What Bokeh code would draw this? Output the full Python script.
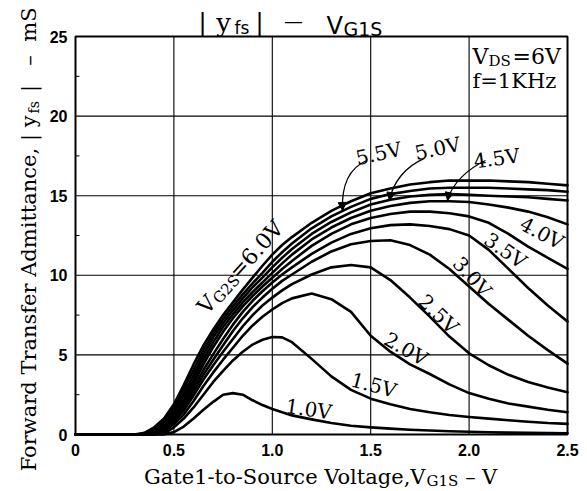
import math
from bokeh.plotting import figure
from bokeh.models import Label, Range1d, Arrow, NormalHead
from bokeh.core.properties import value
from bokeh.embed import file_html
from bokeh.resources import INLINE

# ---------------- data ----------------
vg1s = [0.0, 0.30, 0.35, 0.40, 0.45, 0.50, 0.55, 0.60, 0.65, 0.70, 0.75, 0.80,
        0.85, 0.90, 0.95, 1.00, 1.05, 1.10, 1.20, 1.30, 1.40, 1.50, 1.60, 1.70,
        1.80, 1.90, 2.00, 2.10, 2.20, 2.30, 2.40, 2.50]

yfs_vg2s_1_0 = [0, 0, 0, 0, 0, 0.15, 0.5, 1.0, 1.55, 2.05, 2.5, 2.6, 2.5, 2.15, 1.85, 1.6,
                1.4, 1.2, 0.95, 0.72, 0.55, 0.45, 0.37, 0.3, 0.25, 0.2, 0.17, 0.14, 0.12,
                0.1, 0.09, 0.08]
yfs_vg2s_1_5 = [0, 0, 0, 0, 0.05, 0.45, 1.0, 1.7, 2.5, 3.3, 4.0, 4.65, 5.2, 5.65, 5.95,
                6.12, 6.1, 5.8, 4.75, 3.65, 2.8, 2.25, 1.9, 1.6, 1.4, 1.22, 1.1, 1.0, 0.9,
                0.8, 0.72, 0.67]
yfs_vg2s_2_0 = [0, 0, 0, 0, 0.2, 0.65, 1.25, 2.1, 3.05, 3.9, 4.7, 5.45, 6.2, 6.85, 7.4,
                7.85, 8.25, 8.55, 8.85, 8.5, 7.7, 6.2, 5.2, 4.4, 3.8, 3.15, 2.6, 2.25, 1.95,
                1.75, 1.55, 1.4]
yfs_vg2s_2_5 = [0, 0, 0, 0, 0.3, 0.8, 1.5, 2.45, 3.45, 4.35, 5.2, 6.0, 6.8, 7.5, 8.1,
                8.6, 9.05, 9.45, 10.05, 10.5, 10.65, 10.5, 9.7, 8.6, 7.4, 6.15, 5.1, 4.35,
                3.75, 3.3, 2.95, 2.66]
yfs_vg2s_3_0 = [0, 0, 0, 0.1, 0.4, 0.9, 1.7, 2.7, 3.75, 4.7, 5.6, 6.5, 7.3, 8.0, 8.6,
                9.15, 9.65, 10.05, 10.85, 11.5, 11.95, 12.15, 12.2, 11.9, 11.3, 10.4, 9.3,
                8.2, 7.2, 6.2, 5.3, 4.45]
yfs_vg2s_3_5 = [0, 0, 0, 0.15, 0.5, 1.05, 1.9, 2.95, 4.05, 5.05, 6.0, 6.9, 7.7, 8.4, 9.0,
                9.55, 10.05, 10.5, 11.35, 12.05, 12.6, 12.95, 13.15, 13.2, 13.1, 12.9, 12.5,
                11.6, 10.4, 9.2, 8.1, 7.1]
yfs_vg2s_4_0 = [0, 0, 0, 0.2, 0.6, 1.2, 2.1, 3.2, 4.4, 5.5, 6.45, 7.3, 8.05, 8.7, 9.3,
                9.85, 10.4, 10.9, 11.85, 12.6, 13.2, 13.6, 13.85, 14.0, 14.0, 13.9, 13.7,
                13.3, 12.6, 11.8, 11.1, 10.4]
yfs_vg2s_4_5 = [0, 0, 0, 0.25, 0.7, 1.35, 2.3, 3.45, 4.7, 5.8, 6.75, 7.55, 8.3, 8.95, 9.55,
                10.15, 10.75, 11.3, 12.25, 13.0, 13.6, 14.05, 14.35, 14.55, 14.65, 14.65,
                14.6, 14.45, 14.25, 14.0, 13.65, 13.2]
yfs_vg2s_5_0 = [0, 0, 0, 0.3, 0.8, 1.5, 2.55, 3.75, 5.0, 6.1, 7.0, 7.8, 8.55, 9.25, 9.85,
                10.5, 11.1, 11.65, 12.6, 13.35, 13.95, 14.45, 14.75, 14.95, 15.05, 15.1,
                15.05, 15.0, 14.95, 14.9, 14.8, 14.7]
yfs_vg2s_5_5 = [0, 0, 0.05, 0.35, 0.9, 1.7, 2.85, 4.05, 5.3, 6.35, 7.25, 8.05, 8.8, 9.5,
                10.15, 10.85, 11.45, 12.0, 12.95, 13.7, 14.3, 14.8, 15.1, 15.3, 15.45, 15.5,
                15.5, 15.5, 15.45, 15.4, 15.35, 15.25]
yfs_vg2s_6_0 = [0, 0, 0.1, 0.45, 1.0, 1.9, 3.1, 4.4, 5.6, 6.6, 7.5, 8.3, 9.1, 9.85, 10.6,
                11.3, 11.9, 12.4, 13.3, 14.05, 14.65, 15.15, 15.45, 15.7, 15.85, 15.95,
                15.95, 15.95, 15.9, 15.85, 15.75, 15.65]

curves = [yfs_vg2s_1_0, yfs_vg2s_1_5, yfs_vg2s_2_0, yfs_vg2s_2_5, yfs_vg2s_3_0,
          yfs_vg2s_3_5, yfs_vg2s_4_0, yfs_vg2s_4_5, yfs_vg2s_5_0, yfs_vg2s_5_5,
          yfs_vg2s_6_0]

# inline curve labels
curve_label_text = ["1.0V", "1.5V", "2.0V", "2.5V", "3.0V", "3.5V", "4.0V"]
curve_label_x = [1.185, 1.515, 1.68, 1.845, 2.015, 2.185, 2.37]
curve_label_y = [1.6, 3.1, 5.37, 7.56, 9.9, 11.55, 12.65]
curve_label_angle = [-8, -15, -30, -44, -48, -35, -28]

# arrow-pointer labels
ptr_text = ["5.5V", "5.0V", "4.5V"]
ptr_label_x = [1.54, 1.84, 2.14]
ptr_label_y = [17.65, 17.96, 17.34]
ptr_label_angle = [12, 12, 8]
ptr_x0 = [1.479, 1.773, 2.083]
ptr_y0 = [17.21, 17.34, 17.21]
ptr_cx0 = [1.387, 1.677, 1.997]
ptr_cy0 = [16.71, 16.83, 16.71]
ptr_cx1 = [1.351, 1.611, 1.911]
ptr_cy1 = [15.64, 15.83, 15.77]
ptr_x1 = [1.357, 1.596, 1.890]
ptr_y1 = [14.07, 14.7, 14.7]

x_ticks = [0, 0.5, 1.0, 1.5, 2.0, 2.5]
x_tick_labels = ["0", "0.5", "1.0", "1.5", "2.0", "2.5"]
y_ticks = [0, 5, 10, 15, 20, 25]
y_tick_labels = ["0", "5", "10", "15", "20", "25"]
y_minor_ticks = [2.5, 7.5, 12.5, 17.5, 22.5]

# ---------------- layout (pixels) ----------------
W, H = 587, 491
PL, PR, PT, PB = 75, 20, 36, 57          # margins around the plotting box
XU = (W - PL - PR) / (x_ticks[-1] - x_ticks[0])   # px per x unit
YU = (H - PT - PB) / (y_ticks[-1] - y_ticks[0])   # px per y unit
x_lo = x_ticks[0] - PL / XU
x_hi = x_ticks[-1] + PR / XU
y_lo = y_ticks[0] - PB / YU
y_hi = y_ticks[-1] + PT / YU

p = figure(width=W, height=H, x_range=Range1d(x_lo, x_hi), y_range=Range1d(y_lo, y_hi),
           output_backend="svg", toolbar_location=None, min_border=0,
           x_axis_type=None, y_axis_type=None)
p.background_fill_color = "white"
p.border_fill_color = "white"
p.outline_line_color = None
p.grid.visible = False

X0, X1 = x_ticks[0], x_ticks[-1]
Y0, Y1 = y_ticks[0], y_ticks[-1]

# grid
gx = x_ticks[1:-1]
gy = y_ticks[1:-1]
p.segment(x0=gx, y0=[Y0] * len(gx), x1=gx, y1=[Y1] * len(gx), line_color="black", line_width=1.1)
p.segment(x0=[X0] * len(gy), y0=gy, x1=[X1] * len(gy), y1=gy, line_color="black", line_width=1.1)
# minor ticks on the left edge
p.segment(x0=[X0] * len(y_minor_ticks), y0=y_minor_ticks,
          x1=[X0 + 4 / XU] * len(y_minor_ticks), y1=y_minor_ticks, line_color="black", line_width=1)

# curves
for ys in curves:
    p.line(vg1s, ys, line_color="black", line_width=2.6, line_join="round", line_cap="round")

# frame
p.quad(left=[X0], right=[X1], bottom=[Y0], top=[Y1], fill_color=None, line_color="black",
       line_width=2)

# tick labels
TICKFONT = "Liberation Sans"
p.text(x=x_ticks, y=[Y0] * len(x_ticks), text=x_tick_labels, text_align="center",
       text_baseline="top", y_offset=9, text_font=value(TICKFONT), text_font_style="bold",
       text_font_size="16px", text_color="black")
p.text(x=[X0] * len(y_ticks), y=y_ticks, text=y_tick_labels, text_align="right",
       text_baseline="middle", x_offset=-8, text_font=value(TICKFONT), text_font_style="bold",
       text_font_size="16px", text_color="black")

SERIF = "DejaVu Serif"
SANS = "DejaVu Sans"

for t, x, y, a in zip(curve_label_text, curve_label_x, curve_label_y, curve_label_angle):
    p.add_layout(Label(x=x, y=y, text=t, angle=math.radians(a), text_align="center",
                       text_baseline="middle", text_font=SERIF, text_font_size="20px",
                       text_color="black"))

for t, x, y, a in zip(ptr_text, ptr_label_x, ptr_label_y, ptr_label_angle):
    p.add_layout(Label(x=x, y=y, text=t, angle=math.radians(a), text_align="center",
                       text_baseline="middle", text_font=SERIF, text_font_size="20px",
                       text_color="black"))

p.bezier(x0=ptr_x0, y0=ptr_y0, x1=ptr_x1, y1=ptr_y1, cx0=ptr_cx0, cy0=ptr_cy0,
         cx1=ptr_cx1, cy1=ptr_cy1, line_color="black", line_width=1.3)
for xs, ys, xe, ye in zip(ptr_cx1, ptr_cy1, ptr_x1, ptr_y1):
    p.add_layout(Arrow(end=NormalHead(size=8, fill_color="black", line_color="black"),
                       x_start=xs, y_start=ys, x_end=xe, y_end=ye, line_alpha=0))

# V_G2S = 6.0V rotated label, built from pieces
ang = math.radians(48)
ux, uy = math.cos(ang), math.sin(ang)
nx, ny = math.sin(ang), -math.cos(ang)
pieces = [("V", 0, 0, 22), ("G2S", 16.5, 4.5, 15), ("=6.0V", 47, 0, 22)]
for t, d, s, fs in pieces:
    p.add_layout(Label(x=0.64, y=7.79, text=t, angle=ang, text_align="left",
                       text_baseline="alphabetic", text_font=SERIF,
                       text_font_size=f"{fs}px", x_offset=d * ux + s * nx,
                       y_offset=d * uy + s * ny, text_color="black"))


# window-pixel helper (figure fills the page from its top-left corner)
def wlabel(text, wx, wy, size, font=SERIF, align="left", baseline="alphabetic", angle=0.0):
    p.add_layout(Label(x=wx, y=H - wy, x_units="screen", y_units="screen", text=text,
                       text_font=font, text_font_size=f"{size}px", text_align=align,
                       text_baseline=baseline, angle=angle, text_color="black"))


# title  | y_fs |  -  V_G1S
wlabel("|", 202, 22, 24, SANS, "center")
wlabel("y", 223, 22, 26, SERIF, "center")
wlabel("fs", 234, 27, 17, SANS, "left")
wlabel("|", 259, 22, 24, SANS, "center")
wlabel("—", 293, 20, 19, SANS, "center", "middle")
wlabel("V", 326, 25, 24, SANS, "left")
wlabel("G1S", 343, 28, 19, SANS, "left")

# conditions
wlabel("V", 472, 56, 22)
wlabel("DS", 488, 60, 15)
wlabel("=6V", 512, 56, 22)
wlabel("f=1KHz", 472, 80, 21)

# x axis title
wlabel("Gate1-to-Source Voltage,V", 425, 476, 21, SERIF, "right")
wlabel("G1S", 426, 480, 15, SERIF, "left")
wlabel("–", 470, 476, 21, SERIF, "center")
wlabel("V", 489, 476, 21, SERIF, "center")

# y axis title (rotated)
r90 = math.pi / 2
wlabel("Forward Transfer Admittance, | y", 28, 115, 21, SERIF, "right", "alphabetic", r90)
wlabel("fs", 33, 113, 14, SERIF, "left", "alphabetic", r90)
wlabel("|", 28, 88, 21, SERIF, "center", "alphabetic", r90)
wlabel("–", 28, 60, 21, SERIF, "center", "alphabetic", r90)
wlabel("mS", 28, 24, 21, SERIF, "center", "alphabetic", r90)

open("out.html", "w").write(file_html(p, INLINE))
